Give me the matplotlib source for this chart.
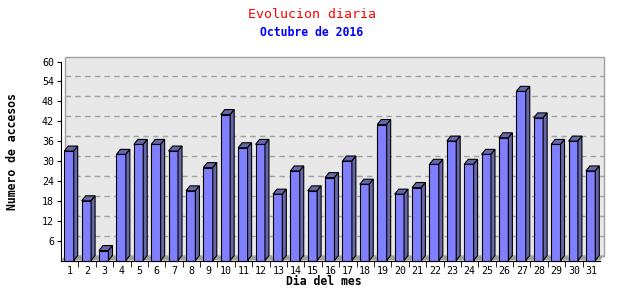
import matplotlib
matplotlib.use('Agg')
import matplotlib.pyplot as plt
from matplotlib.patches import Polygon, Rectangle
import numpy as np

dias = list(range(1, 32))
accesos = [33, 18, 3, 32, 35, 35, 33, 21, 28, 44, 34, 35, 20, 27, 21, 25,
           30, 23, 41, 20, 22, 29, 36, 29, 32, 37, 51, 43, 35, 36, 27]
y_ticks = list(range(6, 61, 6))

titulo = 'Evolucion diaria'
subtitulo = 'Octubre de 2016'
x_label = 'Dia del mes'
y_label = 'Numero de accesos'

MONO = 'DejaVu Sans Mono'
FRONT = '#8080FF'
SHADE = '#6666A8'
WALL = '#E8E8E8'
FLOOR = '#A0A0A0'

fig = plt.figure(figsize=(6.4, 3.0), dpi=100)
ax = fig.add_axes([61 / 640, 39.5 / 300, 539 / 640, 199 / 300])
ax.set_xlim(0.5, 31.5)
ax.set_ylim(0, 60)
ax.patch.set_visible(False)

# 3d depth in data units (about 4px right, 5px up)
ddx = 4 / (539 / 31)
ddy = 5 * 60 / 199

# back wall + floor
ax.add_patch(Rectangle((0.5 + ddx, ddy), 31, 60, facecolor=WALL,
                       edgecolor='#A0A0A0', lw=1, clip_on=False, zorder=0))
ax.add_patch(Polygon([(0.5, 0), (31.5, 0), (31.5 + ddx, ddy), (0.5 + ddx, ddy)],
                     closed=True, facecolor=FLOOR, edgecolor='none',
                     clip_on=False, zorder=1))
for v in y_ticks[:-1]:
    ax.plot([0.5 + ddx, 31.5 + ddx], [v + ddy, v + ddy], color='#A0A0A0',
            lw=1, dashes=(4, 3), clip_on=False, zorder=1)

# bars
w = 0.54
for d, v in zip(dias, accesos):
    x0 = d - 0.31
    x1 = x0 + w
    ax.add_patch(Rectangle((x0, 0), w, v, facecolor=FRONT, edgecolor='black',
                           lw=0.8, zorder=3, clip_on=False))
    ax.add_patch(Polygon([(x0, v), (x1, v), (x1 + ddx, v + ddy), (x0 + ddx, v + ddy)],
                         closed=True, facecolor=SHADE, edgecolor='black',
                         lw=0.8, zorder=3, clip_on=False))
    ax.add_patch(Polygon([(x1, 0), (x1 + ddx, ddy), (x1 + ddx, v + ddy), (x1, v)],
                         closed=True, facecolor=SHADE, edgecolor='black',
                         lw=0.8, zorder=3, clip_on=False))

for s in ['top', 'right']:
    ax.spines[s].set_visible(False)
ax.spines['left'].set_color('black')
ax.spines['bottom'].set_color('black')
ax.spines['left'].set_zorder(4)
ax.spines['bottom'].set_zorder(4)

ax.set_yticks(y_ticks)
ax.set_yticklabels([str(t) for t in y_ticks], fontsize=7.2, family=MONO)
ax.set_xticks(dias)
ax.set_xticklabels([str(d) for d in dias], fontsize=7.2, family=MONO)
ax.tick_params(axis='x', length=0, pad=4)
ax.tick_params(axis='y', length=3, pad=2)
ax.set_xticks(np.arange(1.5, 31.5, 1), minor=True)
ax.tick_params(axis='x', which='minor', length=4)

fig.text(312 / 640, 1 - 14 / 300, titulo, color='#FF0000', fontsize=9.5,
         family=MONO, ha='center', va='center')
fig.text(312 / 640, 1 - 32 / 300, subtitulo, color='#0000FF', fontsize=8.3,
         family=MONO, weight='bold', ha='center', va='center')
fig.text(324 / 640, 1 - 281.5 / 300, x_label, fontsize=8.3, family=MONO,
         weight='bold', ha='center', va='center')
fig.text(13 / 640, 1 - 152 / 300, y_label, fontsize=8.3, family=MONO,
         weight='bold', ha='center', va='center', rotation=90)

fig.savefig('out.png', dpi=100)
